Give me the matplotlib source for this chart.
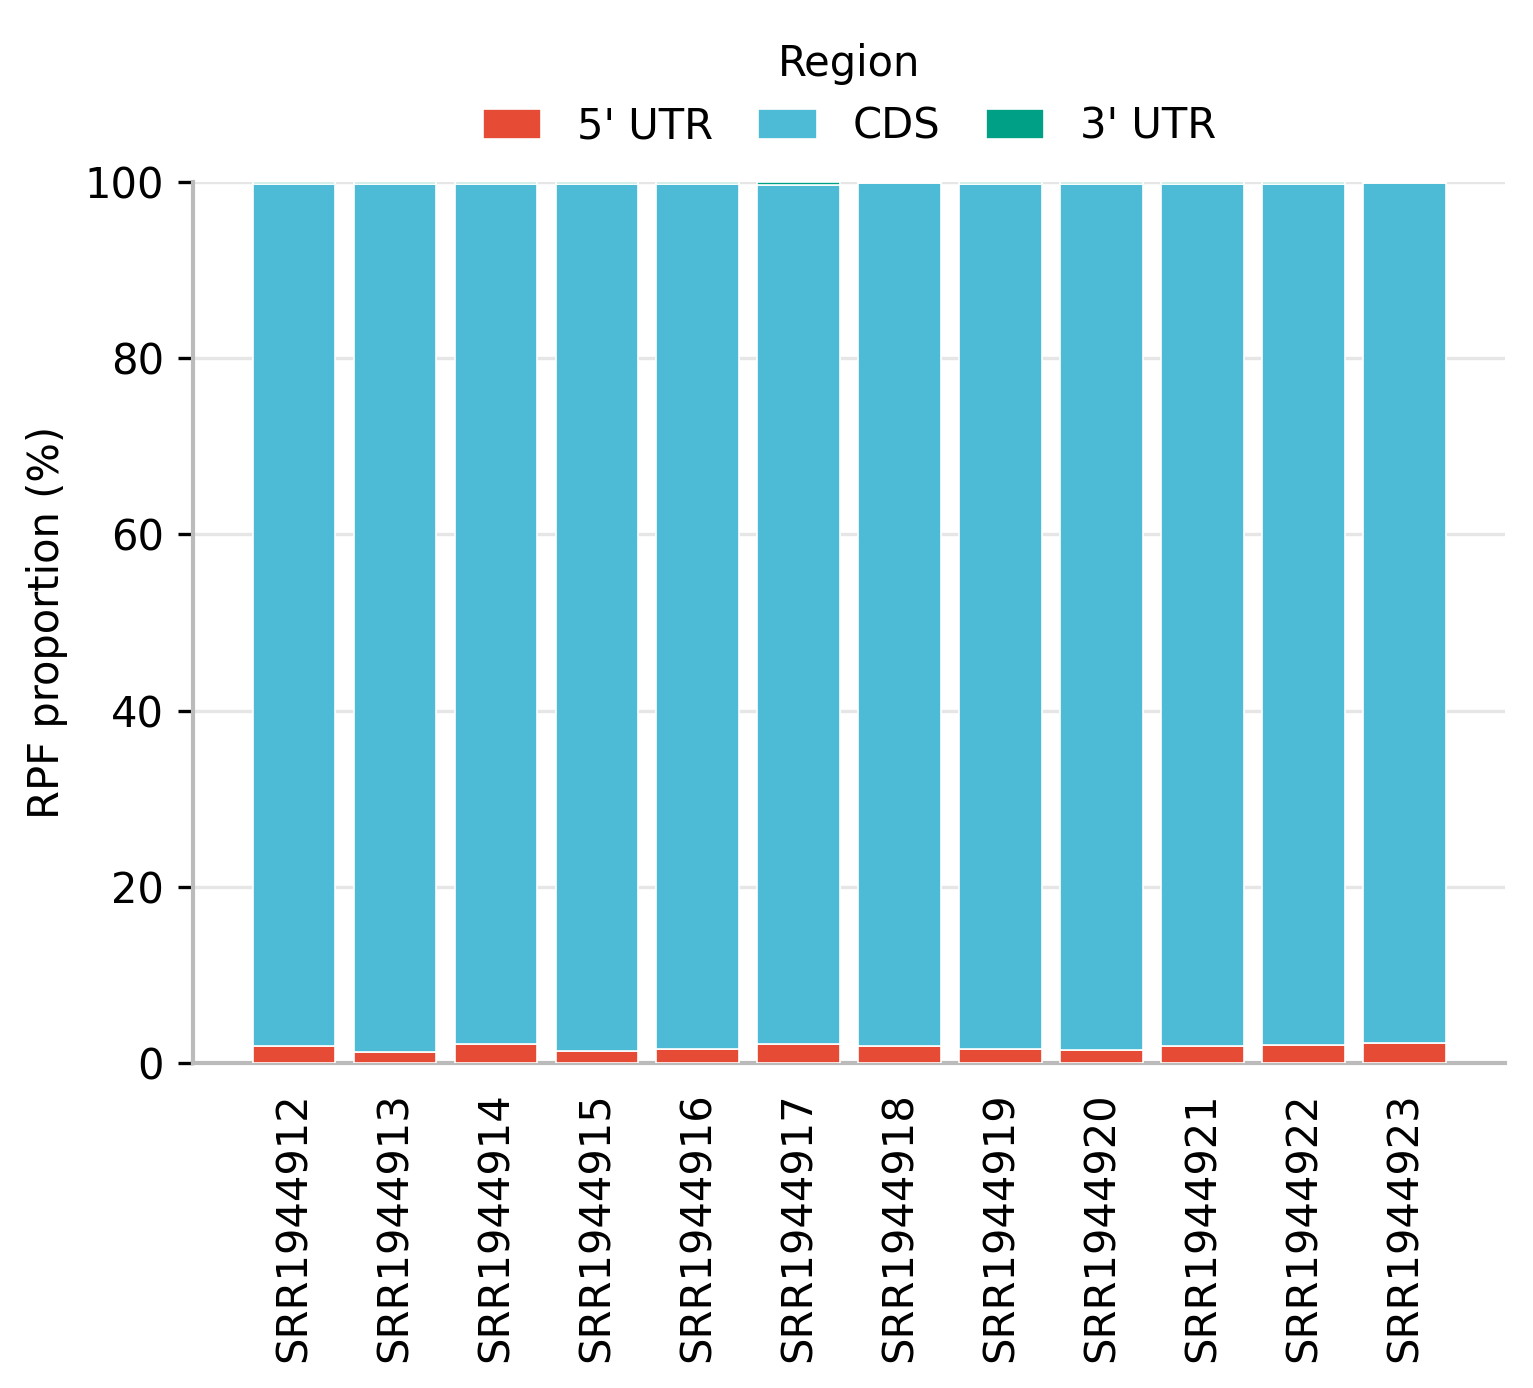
import matplotlib
matplotlib.use("Agg")
import matplotlib.pyplot as plt
import numpy as np

# sample ids and region proportions (%)
samples = ["SRR1944912", "SRR1944913", "SRR1944914", "SRR1944915",
           "SRR1944916", "SRR1944917", "SRR1944918", "SRR1944919",
           "SRR1944920", "SRR1944921", "SRR1944922", "SRR1944923"]
utr5 = [1.9, 1.25, 2.15, 1.4, 1.6, 2.15, 1.9, 1.65, 1.55, 2.0, 2.05, 2.25]
utr3 = [0.2, 0.2, 0.2, 0.2, 0.2, 0.35, 0.15, 0.2, 0.2, 0.2, 0.2, 0.15]
cds = [100 - a - b for a, b in zip(utr5, utr3)]

regions = ["5' UTR", "CDS", "3' UTR"]
colors = ["#E64B35", "#4DBBD5", "#00A087"]

plt.rcParams['font.family'] = ['DejaVu Sans']
plt.rcParams['font.size'] = 10

fig = plt.figure(figsize=(1533/300, 1388/300), dpi=300)
ax = fig.add_axes([0.126, 0.234, 0.856, 0.635])

x = np.arange(len(samples))
bottom = np.zeros(len(samples))
for name, vals, col in zip(regions, [utr5, cds, utr3], colors):
    ax.bar(x, vals, width=0.82, bottom=bottom, color=col, label=name,
           edgecolor="white", linewidth=0.4, zorder=3)
    bottom += np.array(vals)

ax.set_xlim(-1, 12)
ax.set_ylim(0, 100)
ax.set_yticks([0, 20, 40, 60, 80, 100])
ax.set_xticks(x)
ax.set_xticklabels(samples, rotation=90)
ax.tick_params(axis="x", length=0, pad=7)
ax.tick_params(axis="y", length=3.5, width=0.8, color="black")
ax.set_ylabel("RPF proportion (%)")
ax.yaxis.grid(True, color="#e6e6e6", linewidth=0.8, zorder=0)
ax.set_axisbelow(True)
for s in ["top", "right"]:
    ax.spines[s].set_visible(False)
for s in ["left", "bottom"]:
    ax.spines[s].set_color("#bbbbbb")
    ax.spines[s].set_linewidth(1.0)

ax.legend(title="Region", loc="lower center", bbox_to_anchor=(0.5, 1.0),
          ncol=3, frameon=False, handlelength=1.4, columnspacing=1.1,
          handletextpad=0.85, borderaxespad=0.42)

fig.savefig("out.png", dpi=300)
